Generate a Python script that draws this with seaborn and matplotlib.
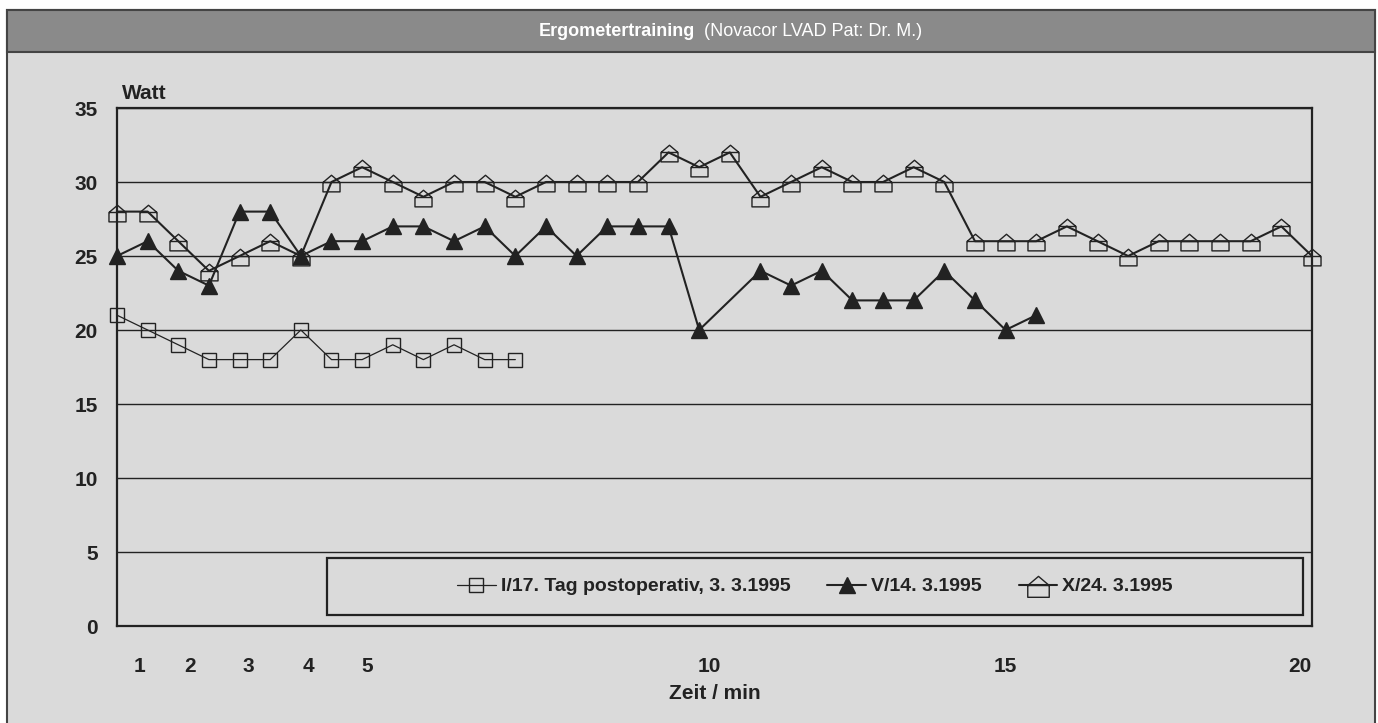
import pandas as pd
import matplotlib
matplotlib.use("Agg")
import matplotlib.pyplot as plt
from matplotlib.path import Path
from matplotlib.patches import Rectangle
from matplotlib.lines import Line2D
import seaborn as sns

# Zeit in Minuten, alle 30 s ein Messpunkt
zeit = [0.5, 1.0, 1.5, 2.0, 2.5, 3.0, 3.5, 4.0, 4.5, 5.0,
        5.5, 6.0, 6.5, 7.0, 7.5, 8.0, 8.5, 9.0, 9.5, 10.0,
        10.5, 11.0, 11.5, 12.0, 12.5, 13.0, 13.5, 14.0, 14.5, 15.0,
        15.5, 16.0, 16.5, 17.0, 17.5, 18.0, 18.5, 19.0, 19.5, 20.0]

watt_i = [21, 20, 19, 18, 18, 18, 20, 18, 18, 19, 18, 19, 18, 18]
watt_v = [25, 26, 24, 23, 28, 28, 25, 26, 26, 27, 27, 26, 27, 25,
          27, 25, 27, 27, 27, 20, None, 24, 23, 24, 22, 22, 22, 24,
          22, 20, 21]
watt_x = [28, 28, 26, 24, 25, 26, 25, 30, 31, 30, 29, 30, 30, 29,
          30, 30, 30, 30, 32, 31, 32, 29, 30, 31, 30, 30, 31, 30,
          26, 26, 26, 27, 26, 25, 26, 26, 26, 26, 27, 25]

serien = ["I/17. Tag postoperativ, 3. 3.1995", "V/14. 3.1995", "X/24. 3.1995"]

xtick_labels = ["1", "2", "3", "4", "5", "10", "15", "20"]
xtick_pos = [0.875, 1.69, 2.65, 3.62, 4.58, 10.16, 15.0, 19.8]
ytick_vals = [0, 5, 10, 15, 20, 25, 30, 35]

df_i = pd.DataFrame({"Zeit": zeit[:len(watt_i)], "Watt": watt_i})
df_v = pd.DataFrame({"Zeit": zeit[:len(watt_v)], "Watt": watt_v}).dropna()
df_x = pd.DataFrame({"Zeit": zeit, "Watt": watt_x})

sns.set_theme(style="white")
plt.rcParams["font.family"] = ["Liberation Sans Narrow", "Liberation Sans", "DejaVu Sans"]

ink = "#222222"

# Haus-Symbol: Quadrat unter dem Punkt, Dach darueber
haus = Path([(-1, -1.1), (1, -1.1), (1, 0), (0, 0.85), (-1, 0), (-1, -1.1),
             (-1, 0), (1, 0)],
            [Path.MOVETO, Path.LINETO, Path.LINETO, Path.LINETO, Path.LINETO,
             Path.CLOSEPOLY, Path.MOVETO, Path.LINETO])

W, H = 1378, 723
fig = plt.figure(figsize=(W / 100, H / 100), dpi=100)
fig.patch.set_facecolor("white")

# Rahmen + Titelbalken
fig.patches.append(Rectangle((7 / W, -0.02), 1368 / W, (H - 10) / H + 0.02,
                             transform=fig.transFigure, facecolor="#dadada",
                             edgecolor="#444444", lw=1.5, zorder=-2))
fig.patches.append(Rectangle((7 / W, (H - 52) / H), 1368 / W, 42 / H,
                             transform=fig.transFigure, facecolor="#8a8a8a",
                             edgecolor="#444444", lw=1.5, zorder=-1))

ax = fig.add_axes([117 / W, 97 / H, 1195 / W, 518 / H])
ax.set_zorder(2)
ax.set_facecolor("none")

sns.lineplot(data=df_i, x="Zeit", y="Watt", ax=ax, color=ink, lw=0.9,
             marker="s", ms=10, mfc="none", markeredgecolor=ink,
             markeredgewidth=1.0, clip_on=False)
sns.lineplot(data=df_v, x="Zeit", y="Watt", ax=ax, color=ink, lw=1.5,
             marker="^", ms=11, mfc=ink, markeredgecolor=ink,
             markeredgewidth=1.0, clip_on=False)
sns.lineplot(data=df_x, x="Zeit", y="Watt", ax=ax, color=ink, lw=1.5,
             marker=haus, ms=13.5, mfc="none", markeredgecolor=ink,
             markeredgewidth=1.0, clip_on=False)

ax.set_xlim(zeit[0], zeit[-1])
ax.set_ylim(0, 35)
ax.set_yticks(ytick_vals)
ax.set_xticks(xtick_pos)
ax.set_xticklabels(xtick_labels)
ax.tick_params(axis="both", length=0, labelsize=15, labelcolor=ink)
ax.tick_params(axis="x", pad=22)
ax.tick_params(axis="y", pad=14)
for lab in ax.get_xticklabels() + ax.get_yticklabels():
    lab.set_fontweight("bold")
ax.yaxis.grid(True, color=ink, lw=1.0)
ax.xaxis.grid(False)
for sp in ax.spines.values():
    sp.set_visible(True)
    sp.set_color(ink)
    sp.set_linewidth(1.6)

ax.set_ylabel("")
ax.set_xlabel("Zeit / min", fontsize=15, fontweight="bold", color=ink, labelpad=6)
fig.text(122 / W, (H - 99) / H, "Watt", fontsize=15, fontweight="bold",
         color=ink, va="baseline")

# Legende im Kasten
ax.add_patch(Rectangle((0.1757, 0.0212), 0.8168, 0.110, transform=ax.transAxes,
                       facecolor="none", edgecolor=ink, lw=1.6, zorder=5))
handles = [
    Line2D([], [], color=ink, lw=0.9, marker="s", ms=10, mfc="none", mec=ink, mew=1.0),
    Line2D([], [], color=ink, lw=1.5, marker="^", ms=11, mfc=ink, mec=ink),
    Line2D([], [], color=ink, lw=1.5, marker=haus, ms=17, mfc="none", mec=ink, mew=1.0),
]
leg = ax.legend(handles, serien, loc="center", bbox_to_anchor=(0.584, 0.076),
                ncol=3, frameon=False, handlelength=2.0, handletextpad=0.25,
                columnspacing=1.9, prop={"size": 14, "weight": "bold"})
for t in leg.get_texts():
    t.set_color(ink)

# Titel: fetter Teil + Normalschrift
ty = (H - 31) / H
t2 = fig.text(922 / W, ty, "(Novacor LVAD Pat: Dr. M.)", fontsize=13,
              color="white", ha="right", va="center")
fig.canvas.draw()
x0 = t2.get_window_extent().x0
fig.text((x0 - 9) / W, ty, "Ergometertraining", fontsize=13, fontweight="bold",
         color="white", ha="right", va="center")

fig.savefig("out.png", dpi=100)
